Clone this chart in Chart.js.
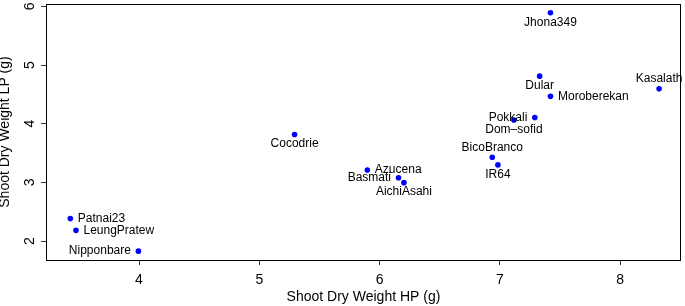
<!DOCTYPE html>
<html>
<head>
<meta charset="utf-8">
<script src="https://cdn.jsdelivr.net/npm/chart.js@4/dist/chart.umd.min.js"></script>
<style>
  html, body { margin: 0; padding: 0; background: #fff; }
  #wrap { width: 685px; height: 306px; }
</style>
</head>
<body>
<div id="wrap"><canvas id="c"></canvas></div>
<script>
// rice accessions: shoot dry weight under HP vs LP
const names = ['Patnai23', 'LeungPratew', 'Nipponbare', 'Cocodrie', 'Azucena', 'Basmati', 'AichiAsahi',
  'Jhona349', 'Dular', 'Moroberekan', 'Kasalath', 'Pokkali', 'Dom\u2013sofid', 'BicoBranco', 'IR64']
const weightHP = [3.429, 3.476, 3.995, 5.293, 5.898, 6.157, 6.202, 7.42, 7.33, 7.42, 8.323, 7.29, 7.116, 6.936, 6.983]
const weightLP = [2.384, 2.182, 1.828, 3.815, 3.212, 3.079, 2.995, 5.89, 4.81, 4.466, 4.594, 4.106, 4.062, 3.428, 3.298]
// where each name sits relative to its dot
const labelPos = ['right', 'right', 'left', 'below', 'right', 'left', 'below', 'below', 'below', 'right', 'above', 'left', 'below', 'above', 'below']

const xTicks = [4, 5, 6, 7, 8]
const yTicks = [2, 3, 4, 5, 6]

const FONT = '"Liberation Sans", Arial, Helvetica, sans-serif'

const pointLabels = {
  id: 'pointLabels',
  afterDatasetsDraw(chart) {
    const ctx = chart.ctx
    const meta = chart.getDatasetMeta(0)
    ctx.save()
    ctx.font = '12px ' + FONT
    ctx.fillStyle = '#000'
    meta.data.forEach((pt, i) => {
      let dx = 0, dy = 0
      ctx.textAlign = 'center'
      ctx.textBaseline = 'middle'
      switch (labelPos[i]) {
        case 'right': ctx.textAlign = 'left'; dx = 7.5; break
        case 'left': ctx.textAlign = 'right'; dx = -7.5; break
        case 'above': dy = -10; break
        default: dy = 9.5
      }
      ctx.fillText(names[i], pt.x + dx, pt.y + dy)
    })
    ctx.restore()
  },
}

const frame = {
  id: 'frame',
  afterDraw(chart) {
    const { left, top, right, bottom } = chart.chartArea
    const ctx = chart.ctx
    ctx.save()
    ctx.strokeStyle = '#000'
    ctx.lineWidth = 1
    ctx.strokeRect(Math.round(left) + 0.5, Math.round(top) + 0.5, Math.round(right - left) - 1, Math.round(bottom - top))
    ctx.restore()
  },
}

new Chart(document.getElementById('c'), {
  type: 'scatter',
  data: {
    datasets: [{
      data: weightHP.map((x, i) => ({ x, y: weightLP[i] })),
      backgroundColor: '#0000ff',
      borderWidth: 0,
      pointRadius: 2.8,
    }],
  },
  options: {
    responsive: true,
    maintainAspectRatio: false,
    animation: false,
    layout: { padding: { top: 1, right: 2, left: 0, bottom: 0 } },
    plugins: { legend: { display: false }, tooltip: { enabled: false } },
    scales: {
      x: {
        type: 'linear',
        min: 3.227,
        max: 8.505,
        afterFit(s) { s.height = 46; s.paddingLeft = 0; s.paddingRight = 0 },
        afterBuildTicks(s) { s.ticks = xTicks.map(v => ({ value: v })) },
        grid: { drawOnChartArea: false, drawTicks: true, tickLength: 5, color: '#333' },
        border: { display: false },
        ticks: { color: '#000', padding: 7, maxRotation: 0, font: { family: FONT, size: 14 } },
        title: { display: true, text: 'Shoot Dry Weight HP (g)', color: '#000', padding: { top: 0, bottom: 0 }, font: { family: FONT, size: 14 } },
      },
      y: {
        type: 'linear',
        min: 1.677,
        max: 6.04,
        afterFit(s) { s.width = 46; s.paddingTop = 0; s.paddingBottom = 0 },
        afterBuildTicks(s) { s.ticks = yTicks.map(v => ({ value: v })) },
        grid: { drawOnChartArea: false, drawTicks: true, tickLength: 5, color: '#333' },
        border: { display: false },
        ticks: { color: '#000', padding: 7, minRotation: 90, maxRotation: 90, crossAlign: 'center', font: { family: FONT, size: 14 } },
        title: { display: true, text: 'Shoot Dry Weight LP (g)', color: '#000', padding: { top: -3, bottom: 0 }, font: { family: FONT, size: 14 } },
      },
    },
  },
  plugins: [pointLabels, frame],
})
</script>
</body>
</html>
